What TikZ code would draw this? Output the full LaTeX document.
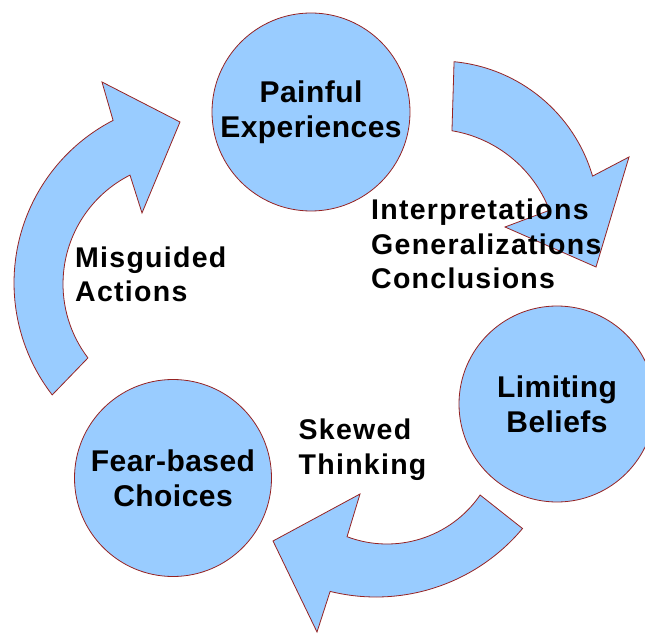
\documentclass[tikz,border=0pt]{standalone}
\usepackage{fontspec}
\setmainfont{Liberation Sans}
\newfontfamily\circfont[LetterSpace=1.5]{Liberation Sans}
\newfontfamily\labfont[LetterSpace=4.5]{Liberation Sans}
\usetikzlibrary{calc}
\definecolor{cycleblue}{RGB}{153,204,255}
\definecolor{cyclered}{RGB}{150,35,35}
\begin{document}
\begin{tikzpicture}[x=1pt,y=1pt,
  arrowshape/.style={fill=cycleblue, draw=cyclered, line width=0.8pt, line join=miter},
  bubble/.style={circle, fill=cycleblue, draw=cyclered, line width=0.8pt, inner sep=0pt,
    align=center, font=\circfont\bfseries\fontsize{30}{35}\selectfont},
  lab/.style={anchor=north west, inner sep=0pt, align=left,
    font=\labfont\bfseries\fontsize{28.5}{34.5}\selectfont}]
\useasboundingbox (0,0) rectangle (645,633);

% centres of the arc edges
\coordinate (r-oc) at (439,412);
\coordinate (r-ic) at (431,377);
\coordinate (l-oc) at (197,350);
\coordinate (l-ic) at (185,349);
\coordinate (b-oc) at (376,227);
\coordinate (b-ic) at (387,202);

% arrowhead points
\coordinate (r-ob) at (629,476);
\coordinate (r-tip) at (596,366);
\coordinate (r-ib) at (505,406);
\coordinate (l-ob) at (102,551);
\coordinate (l-tip) at (180,511);
\coordinate (l-ib) at (142,420);
\coordinate (b-ob) at (317,1);
\coordinate (b-tip) at (273,92);
\coordinate (b-ib) at (360,139);

% right arrow
\draw[arrowshape] ($(r-oc)+(84.6:160pt)$) arc[start angle=84.6, end angle=16.3, radius=160pt]
  -- (r-ob) -- (r-tip) -- (r-ib)
  -- ($(r-ic)+(21.1:127pt)$) arc[start angle=21.1, end angle=80.5, radius=127pt] -- cycle;
% left arrow
\draw[arrowshape] ($(l-oc)+(217.7:183pt)$) arc[start angle=217.7, end angle=117.3, radius=183pt]
  -- (l-ob) -- (l-tip) -- (l-ib)
  -- ($(l-ic)+(116.8:122pt)$) arc[start angle=116.8, end angle=217.3, radius=122pt] -- cycle;
% bottom arrow
\draw[arrowshape] ($(b-oc)+(-39.9:191pt)$) arc[start angle=-39.9, end angle=-103.9, radius=191pt]
  -- (b-ob) -- (b-tip) -- (b-ib)
  -- ($(b-ic)+(-110.7:113pt)$) arc[start angle=-110.7, end angle=-34.5, radius=113pt] -- cycle;

% circles
\node[bubble, minimum size=198pt] (pain) at (311,521) {Painful\\Experiences};
\node[bubble, minimum size=196pt] (limit) at (557,229) {Limiting\\Beliefs};
\node[bubble, minimum size=197pt] (fear) at (173,155) {Fear-based\\Choices};

% labels
\node[lab] (mis) at (75,386.4) {Misguided\\Actions};
\node[lab] (interp) at (371,434) {Interpretations\\Generalizations\\Conclusions};
\node[lab] (skew) at (298.5,214.2) {Skewed\\Thinking};
\end{tikzpicture}
\end{document}
